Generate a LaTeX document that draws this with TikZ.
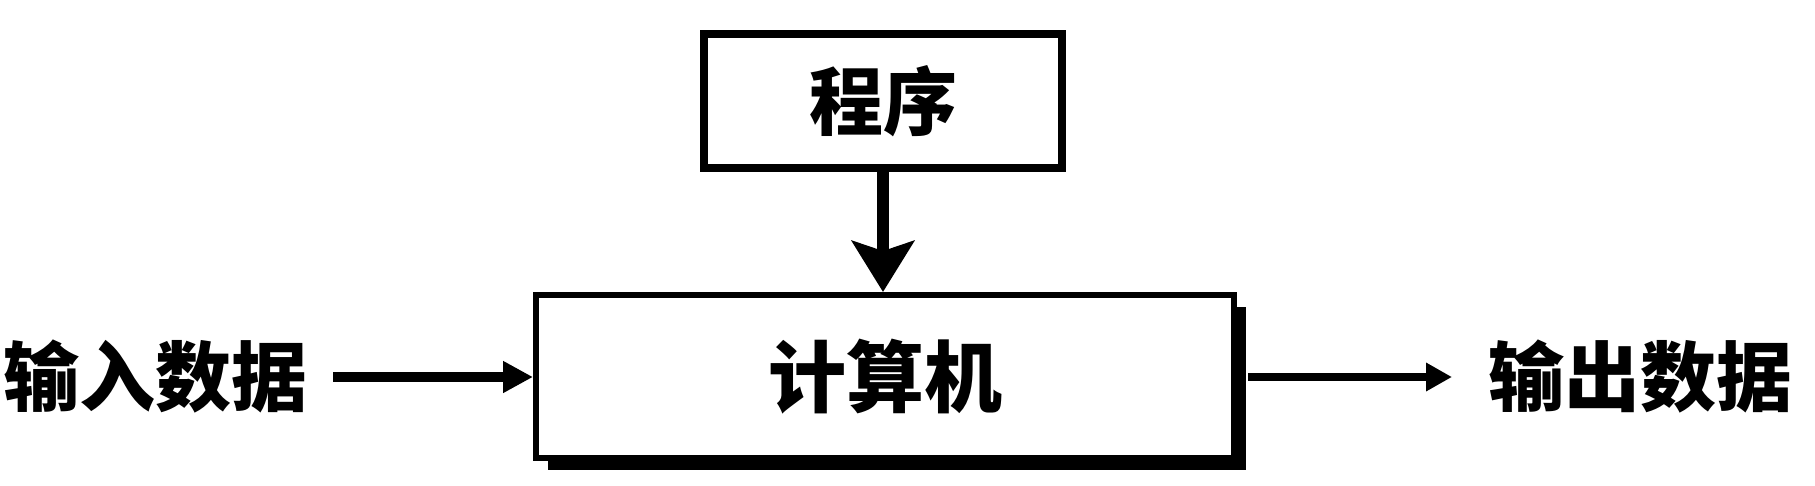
\documentclass[tikz,border=0pt]{standalone}
\usepackage{fontspec}
\setmainfont{Noto Sans CJK SC}
\usetikzlibrary{arrows.meta,shadows}
\begin{document}
\begin{tikzpicture}[x=1pt,y=-1pt,
  lbl/.style={inner sep=0pt,outer sep=0pt,font=\fontsize{76pt}{80pt}\selectfont\bfseries},
  progbox/.style={draw=black,line width=8pt,fill=white,minimum width=358pt,minimum height=134pt,inner sep=0pt,
    font=\fontsize{74pt}{78pt}\selectfont\bfseries},
  compbox/.style={draw=black,line width=6pt,fill=white,minimum width=698pt,minimum height=163pt,inner sep=0pt,
    font=\fontsize{78pt}{82pt}\selectfont\bfseries,
    drop shadow={shadow xshift=12pt,shadow yshift=-12pt,fill=black,opacity=1}},
]
\useasboundingbox[fill=white] (0,0) rectangle (1815,486);
\node[progbox] (prog) at (883,101) {程序};
\node[compbox] (comp) at (885,376.5) {计算机};
\node[lbl] (inp) at (155,377) {输入数据};
\node[lbl] (outp) at (1640,377) {输出数据};
\draw[line width=12pt,-{Stealth[length=51pt,width=62pt,inset=10pt]}] (prog.south) -- (prog.south |- comp.north);
\draw[line width=10pt,-{Triangle[length=30pt,width=30pt]}] ([xshift=26pt]inp.east) -- (inp.east -| comp.west);
\draw[line width=8pt,-{Triangle[length=26pt,width=27pt]}] ([xshift=11pt]comp.east |- outp.west) -- ([xshift=-36pt]outp.west);
\end{tikzpicture}
\end{document}
